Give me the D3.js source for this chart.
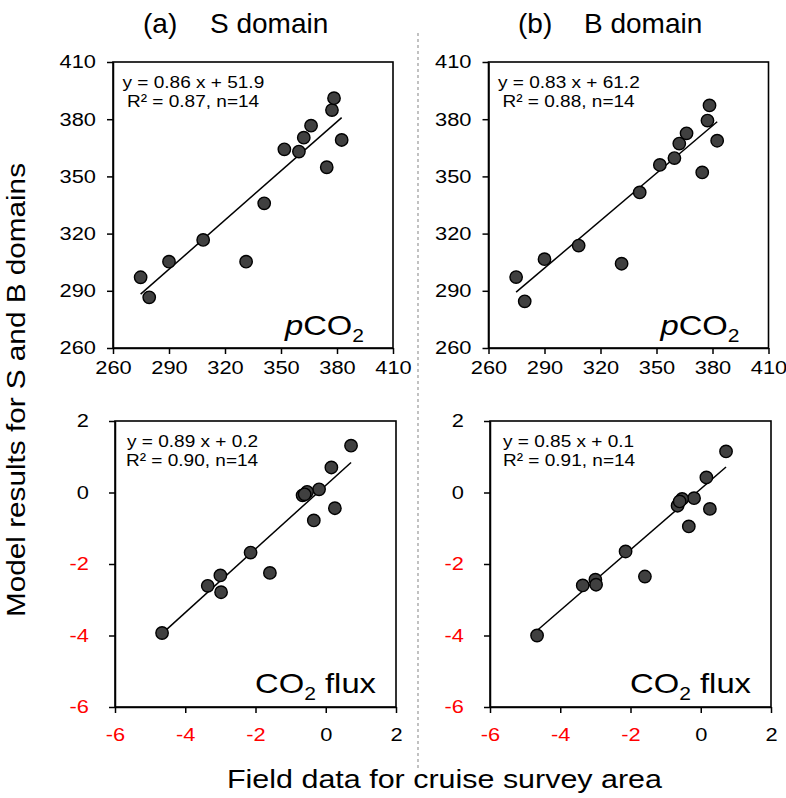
<!DOCTYPE html>
<html><head><meta charset="utf-8">
<script src="https://cdn.jsdelivr.net/npm/d3@7"></script>
<style>body{margin:0;background:#fff} svg{display:block} text{font-family:"Liberation Sans",Arial,sans-serif}</style>
</head><body><svg id="c" width="786" height="798"></svg>
<script>
// ---- data ----
const pco2Field = [274.8,279.4,290,308.3,331.3,341,351.8,359.6,362.2,366.1,374.5,377.3,378.4,382.5];
const pco2S = [297.1,286.6,305.3,316.7,305.3,335.9,364.2,363,370.3,376.6,354.8,384.8,391,369.1];
const pco2B = [297.2,284.5,306.6,313.7,304.2,341.6,356,359.6,367.2,372.6,352.1,379.3,387.2,368.7];
const fluxField = [0.72,0.16,-0.19,-0.53,-0.66,0.26,-0.34,-2.14,-1.59,-3.0,-3.36,-2.98,-4.66,-0.6];
const fluxS = [1.31,0.70,0.09,0.02,-0.08,-0.44,-0.78,-1.68,-2.25,-2.32,-2.61,-2.79,-3.93,-0.05];
const fluxB = [1.15,0.42,-0.16,-0.18,-0.37,-0.46,-0.95,-1.65,-2.35,-2.44,-2.60,-2.58,-4.0,-0.25];
const slopes = [0.86,0.83,0.89,0.85];
const intercepts = [51.9,61.2,0.2,0.1];
const r2Values = ["0.87","0.88","0.90","0.91"];
const nValues = [14,14,14,14];
const pco2Ticks = [260,290,320,350,380,410];
const fluxTicks = [-6,-4,-2,0,2];
const panelLetters = ["(a)","(b)"];
const domainNames = ["S domain","B domain"];
const yTitle = "Model results for S and B domains";
const xTitle = "Field data for cruise survey area";

const svg = d3.select("#c");
const K = 1.17; // horizontal stretch of text

function stretchText(sel, k){
  sel.each(function(){
    const t = d3.select(this);
    const x = +t.attr("x") || 0, y = +t.attr("y") || 0;
    t.attr("x",0).attr("y",0).attr("transform",`translate(${x},${y}) scale(${k},1)`);
  });
}
function label(x, y, anchor, k, size){
  return svg.append("g").attr("transform",`translate(${x},${y}) scale(${k},1)`)
    .append("text").attr("text-anchor",anchor).attr("font-size",size).attr("fill","#000");
}

const panels = [
  {x0:113,x1:393,y0:62,y1:348,xs:pco2Field,ys:pco2S,dom:[260,410],ticks:pco2Ticks,type:"p",padY:11,padX:7,eqDx:[9.5,14]},
  {x0:488.5,x1:768.5,y0:62,y1:348,xs:pco2Field,ys:pco2B,dom:[260,410],ticks:pco2Ticks,type:"p",padY:11,padX:7,eqDx:[9.5,14]},
  {x0:115,x1:396,y0:421,y1:707,xs:fluxField,ys:fluxS,dom:[-6,2],ticks:fluxTicks,type:"f",padY:20,padX:15,eqDx:[12,11]},
  {x0:490,x1:771,y0:421,y1:707,xs:fluxField,ys:fluxB,dom:[-6,2],ticks:fluxTicks,type:"f",padY:20,padX:15,eqDx:[13,13]}
];

panels.forEach((p,i)=>{
  const x = d3.scaleLinear().domain(p.dom).range([p.x0,p.x1]);
  const y = d3.scaleLinear().domain(p.dom).range([p.y1,p.y0]);
  const g = svg.append("g");
  const col = v => (p.type==="f" && v<0) ? "#ff0000" : "#000";
  const fmt = d => String(d);

  const gx = g.append("g").attr("transform",`translate(0,${p.y1})`)
    .call(d3.axisBottom(x).tickValues(p.ticks).tickSize(6).tickSizeOuter(0).tickPadding(p.padX).tickFormat(fmt));
  const gy = g.append("g").attr("transform",`translate(${p.x0},0)`)
    .call(d3.axisLeft(y).tickValues(p.ticks).tickSize(6).tickSizeOuter(0).tickPadding(p.padY).tickFormat(fmt));
  [gx,gy].forEach(a=>{
    a.selectAll("path,line").attr("stroke","#000").attr("stroke-width",1.5);
    a.selectAll("text").attr("font-size",18.5).attr("font-family",'"Liberation Sans",Arial,sans-serif')
      .attr("fill",d=>col(d));
  });
  stretchText(gx.selectAll("text"),1.18);
  stretchText(gy.selectAll("text"),1.18);

  g.append("rect").attr("x",p.x0).attr("y",p.y0).attr("width",p.x1-p.x0).attr("height",p.y1-p.y0)
    .attr("fill","none").attr("stroke","#000").attr("stroke-width",1.6);

  // regression line
  const xmin = d3.min(p.xs), xmax = d3.max(p.xs);
  g.append("line")
    .attr("x1",x(xmin)).attr("y1",y(slopes[i]*xmin+intercepts[i]))
    .attr("x2",x(xmax)).attr("y2",y(slopes[i]*xmax+intercepts[i]))
    .attr("stroke","#000").attr("stroke-width",1.5);

  g.selectAll("circle.pt").data(p.xs.map((v,j)=>[v,p.ys[j]])).join("circle")
    .attr("class","pt").attr("cx",d=>x(d[0])).attr("cy",d=>y(d[1])).attr("r",6.2)
    .attr("fill","#404040").attr("stroke","#000").attr("stroke-width",1.4);

  // equation
  const sign = intercepts[i] >= 0 ? "+" : "-";
  label(p.x0+p.eqDx[0], p.y0+26, "start", 1.12, 17)
    .text(`y = ${slopes[i].toFixed(2)} x ${sign} ${Math.abs(intercepts[i]).toFixed(1)}`);
  label(p.x0+p.eqDx[1], p.y0+45, "start", 1.12, 17)
    .text(`R² = ${r2Values[i]}, n=${nValues[i]}`);

  // variable label
  if(p.type==="p"){
    const t = label(p.x1-29, p.y1-13, "end", K, 28);
    t.append("tspan").attr("font-style","italic").text("p");
    t.append("tspan").text("CO");
    t.append("tspan").attr("font-size",18).attr("dy",7).text("2");
  } else {
    const t = label(p.x1-20, p.y1-14, "end", K, 28);
    t.append("tspan").text("CO");
    t.append("tspan").attr("font-size",18).attr("dy",7).text("2");
    t.append("tspan").attr("dy",-7).text(" flux");
  }
});

// titles
const titleX = [[143,210],[518,584]];
panelLetters.forEach((l,i)=>{
  svg.append("text").attr("x",titleX[i][0]).attr("y",33).attr("font-size",28).attr("fill","#000").text(l);
  svg.append("text").attr("x",titleX[i][1]).attr("y",33).attr("font-size",28).attr("fill","#000").text(domainNames[i]);
});

// divider
svg.append("line").attr("x1",418).attr("x2",418).attr("y1",33).attr("y2",768)
  .attr("stroke","#999").attr("stroke-width",1.2).attr("stroke-dasharray","3,3");

// axis titles
svg.append("text").attr("transform","translate(25,390) rotate(-90)")
  .attr("text-anchor","middle").attr("font-size",25).attr("fill","#000")
  .attr("textLength",454).attr("lengthAdjust","spacingAndGlyphs").text(yTitle);
svg.append("text").attr("x",444.5).attr("y",788).attr("text-anchor","middle").attr("font-size",26).attr("fill","#000")
  .attr("textLength",435).attr("lengthAdjust","spacingAndGlyphs").text(xTitle);
</script></body></html>
